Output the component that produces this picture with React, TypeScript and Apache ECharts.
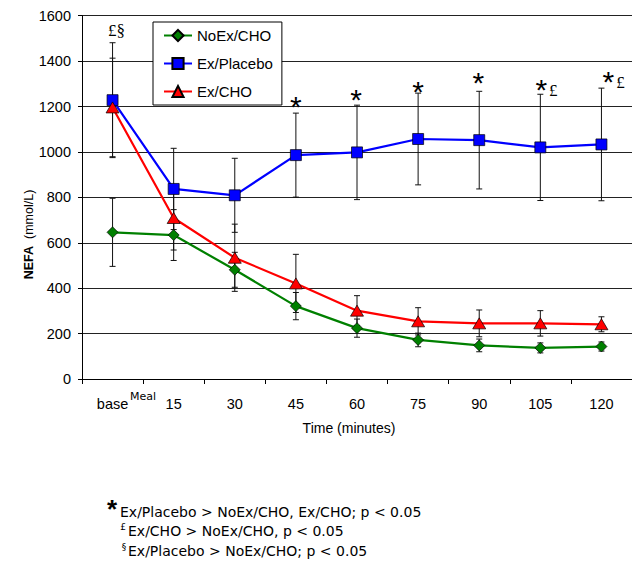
import React, { useEffect, useRef } from 'react';
import * as echarts from 'echarts';

// ---- data ----
const categories = ['base', '15', '30', '45', '60', '75', '90', '105', '120'];
const noExCho = [646, 634, 481, 321, 224, 172, 148, 137, 143];
const noExChoErr = [150, 112, 77, 60, 40, 30, 28, 22, 20];
const exPlacebo = [1228, 837, 809, 986, 998, 1057, 1052, 1020, 1033];
const exPlaceboErr = [253, 179, 163, 185, 208, 202, 215, 234, 248];
const exCho = [1196, 709, 534, 421, 301, 254, 245, 245, 241];
const exChoErr = [217, 141, 148, 128, 66, 60, 59, 56, 33];

const yMin = 0;
const yMax = 1600;
const yInterval = 200;

// significance marks: category index, value (y position in data units), text
const annCategory = [0, 3, 4, 5, 6, 7, 7, 8, 8];
const annValue = [1537, 1228, 1259, 1295, 1334, 1303, 1271, 1337, 1308];
const annText = ['£§', '*', '*', '*', '*', '*', '£', '*', '£'];

const footnoteTexts = [
  'Ex/Placebo > NoEx/CHO, Ex/CHO; p < 0.05',
  'Ex/CHO > NoEx/CHO, p < 0.05',
  'Ex/Placebo > NoEx/CHO; p < 0.05',
];
const footnoteMarks = ['*', '£', '§'];

// ---- layout (pixel offsets, not data) ----
const annDx = [4, 0, -1, 0, -1, 1, 13, 7, 19];

const errData = (vals: number[], errs: number[]) =>
  vals.map((v, i) => [i, v - errs[i], v + errs[i]]);

const errorBarSeries = (name: string, vals: number[], errs: number[]) => ({
  type: 'custom',
  name: name + ' err',
  z: 2,
  silent: true,
  data: errData(vals, errs),
  encode: { x: 0, y: [1, 2] },
  renderItem: (params: any, api: any) => {
    const x = api.value(0);
    const lo = api.coord([x, api.value(1)]);
    const hi = api.coord([x, api.value(2)]);
    const w = 3;
    const style = { stroke: '#111', lineWidth: 1, fill: 'none' };
    return {
      type: 'group',
      children: [
        { type: 'line', shape: { x1: lo[0], y1: lo[1], x2: hi[0], y2: hi[1] }, style },
        { type: 'line', shape: { x1: lo[0] - w, y1: lo[1], x2: lo[0] + w, y2: lo[1] }, style },
        { type: 'line', shape: { x1: hi[0] - w, y1: hi[1], x2: hi[0] + w, y2: hi[1] }, style },
      ],
    };
  },
});

const noteText = (text: string, x: number, y: number) => ({
  type: 'text',
  x,
  y,
  style: {
    text,
    fill: '#000',
    fontFamily: 'DejaVu Sans',
    fontSize: 14,
    align: 'left',
    verticalAlign: 'middle',
  },
});

const supText = (text: string, x: number, y: number) => ({
  type: 'text',
  x,
  y,
  style: {
    text,
    fill: '#000',
    fontFamily: 'DejaVu Sans',
    fontSize: 9,
    align: 'center',
    verticalAlign: 'middle',
  },
});

export default function App() {
  const ref = useRef<HTMLDivElement>(null);

  useEffect(() => {
    if (!ref.current) return;
    const chart = echarts.init(ref.current, null, { renderer: 'svg' });

    const option: any = {
      animation: false,
      backgroundColor: '#fff',
      grid: { left: 82, top: 15.7, right: -3, bottom: 186, containLabel: false },
      legend: {
        data: ['NoEx/CHO', 'Ex/Placebo', 'Ex/CHO'],
        orient: 'vertical',
        left: 153,
        top: 22,
        padding: [6, 9, 6, 10],
        itemGap: 13,
        itemWidth: 28,
        itemHeight: 14,
        borderColor: '#000',
        borderWidth: 1,
        backgroundColor: '#fff',
        textStyle: { fontFamily: 'Liberation Sans', fontSize: 15, color: '#000' },
      },
      xAxis: {
        type: 'category',
        data: categories,
        boundaryGap: true,
        axisLine: { lineStyle: { color: '#000', width: 1 } },
        axisTick: { show: true, length: 5, inside: false, lineStyle: { color: '#000' } },
        axisLabel: {
          fontFamily: 'Liberation Sans',
          fontSize: 14.5,
          color: '#000',
          margin: 17,
          interval: 0,
        },
        splitLine: { show: false },
      },
      yAxis: {
        type: 'value',
        min: yMin,
        max: yMax,
        interval: yInterval,
        axisLine: { show: true, lineStyle: { color: '#000', width: 1 } },
        axisTick: { show: true, length: 4, inside: false, lineStyle: { color: '#000' } },
        axisLabel: {
          fontFamily: 'Liberation Sans',
          fontSize: 14.5,
          color: '#000',
          margin: 11,
          formatter: (v: number) => String(v),
        },
        splitLine: { show: true, lineStyle: { color: '#222', width: 1 } },
      },
      series: [
        errorBarSeries('NoEx/CHO', noExCho, noExChoErr),
        errorBarSeries('Ex/Placebo', exPlacebo, exPlaceboErr),
        errorBarSeries('Ex/CHO', exCho, exChoErr),
        {
          name: 'NoEx/CHO',
          type: 'line',
          z: 3,
          data: noExCho,
          symbol: 'diamond',
          symbolSize: 11,
          itemStyle: { color: '#008000', borderColor: '#000', borderWidth: 0.7 },
          lineStyle: { color: '#008000', width: 2.2 },
        },
        {
          name: 'Ex/Placebo',
          type: 'line',
          z: 3,
          data: exPlacebo,
          symbol: 'rect',
          symbolSize: 11,
          itemStyle: { color: '#0000ff', borderColor: '#000', borderWidth: 0.7 },
          lineStyle: { color: '#0000ff', width: 2.2 },
        },
        {
          name: 'Ex/CHO',
          type: 'line',
          z: 3,
          data: exCho,
          symbol: 'triangle',
          symbolSize: [13, 11],
          itemStyle: { color: '#ff0000', borderColor: '#000', borderWidth: 0.7 },
          lineStyle: { color: '#ff0000', width: 2.2 },
        },
        {
          type: 'custom',
          name: 'annotations',
          z: 4,
          silent: true,
          data: annCategory.map((c, i) => [c, annValue[i]]),
          encode: { x: 0, y: 1 },
          renderItem: (params: any, api: any) => {
            const i = params.dataIndex;
            const p = api.coord([api.value(0), api.value(1)]);
            const t = annText[i];
            const star = t === '*';
            return {
              type: 'text',
              x: p[0] + annDx[i],
              y: p[1] + (star ? 6.5 : 0),
              style: {
                text: t,
                fill: '#000',
                fontFamily: star ? 'Liberation Sans' : 'Liberation Serif',
                fontSize: star ? 30 : 17,
                align: 'center',
                verticalAlign: 'middle',
              },
            };
          },
        },
      ],
      graphic: [
        {
          type: 'text',
          x: 130,
          y: 396,
          style: {
            text: 'Meal',
            fill: '#000',
            fontFamily: 'DejaVu Sans',
            fontSize: 11,
            align: 'left',
            verticalAlign: 'middle',
          },
        },
        {
          type: 'text',
          x: 349,
          y: 428,
          style: {
            text: 'Time (minutes)',
            fill: '#000',
            fontFamily: 'Liberation Sans',
            fontSize: 14,
            align: 'center',
            verticalAlign: 'middle',
          },
        },
        {
          type: 'text',
          x: 29,
          y: 234.5,
          rotation: Math.PI / 2,
          style: {
            text: '{b|NEFA}{n|  (mmol/L)}',
            rich: {
              b: { fontFamily: 'Liberation Sans', fontSize: 12.5, fontWeight: 'bold', fill: '#000' },
              n: { fontFamily: 'Liberation Sans', fontSize: 12.5, fill: '#000' },
            },
            align: 'center',
            verticalAlign: 'middle',
          },
        },
        {
          type: 'text',
          x: 112,
          y: 509,
          style: {
            text: footnoteMarks[0],
            fill: '#000',
            fontFamily: 'Liberation Sans',
            fontSize: 26,
            fontWeight: 'bold',
            align: 'center',
            verticalAlign: 'middle',
          },
        },
        noteText(footnoteTexts[0], 120, 511.7),
        supText(footnoteMarks[1], 123, 527),
        noteText(footnoteTexts[1], 128, 531),
        supText(footnoteMarks[2], 124, 547),
        noteText(footnoteTexts[2], 128, 551),
      ],
    };

    chart.setOption(option);
    return () => chart.dispose();
  }, []);

  return (
    <div
      ref={ref}
      style={{ position: 'absolute', left: 0, top: 0, width: 632, height: 565, background: '#fff' }}
    />
  );
}
